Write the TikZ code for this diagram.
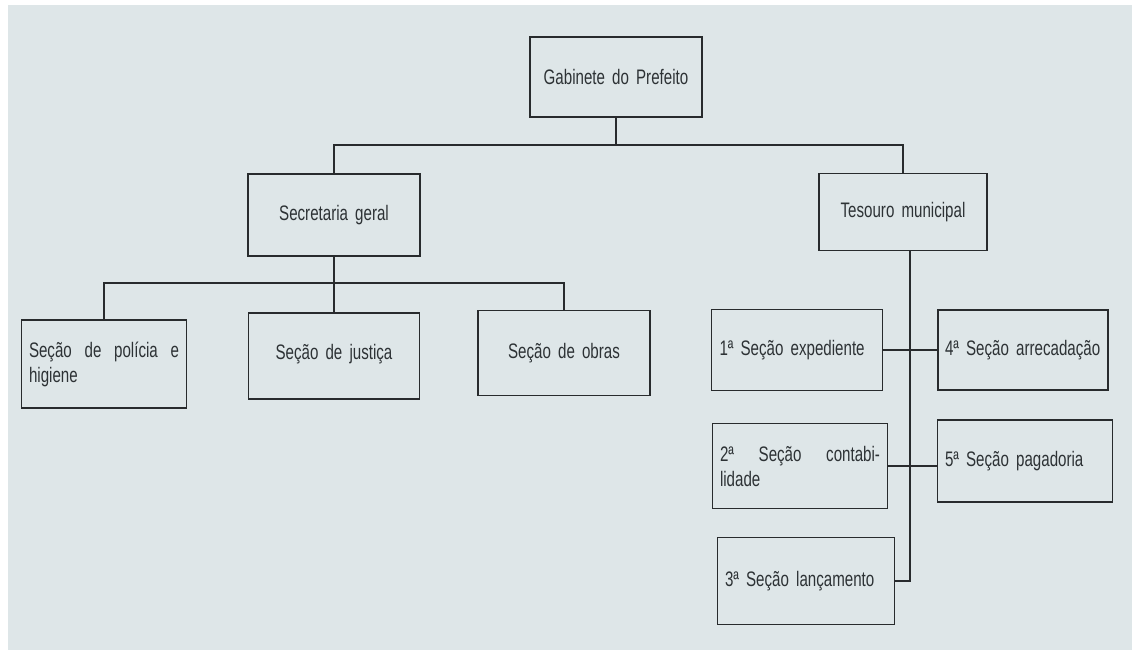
\documentclass[tikz,border=0pt]{standalone}
\usepackage{fontspec}
\setmainfont{Liberation Sans}[FakeStretch=0.72,WordSpace=1.7]
\definecolor{paper}{RGB}{222,230,232}
\definecolor{ink}{RGB}{40,43,45}
\definecolor{txt}{RGB}{45,50,53}
\begin{document}
\begin{tikzpicture}[x=1pt,y=-1pt,
  box/.style={draw=ink,line width=1.8pt,rectangle,minimum width=#1,inner sep=6pt,font=\fontsize{21}{25}\selectfont,text=txt},
  conn/.style={draw=ink,line width=1.7pt}]
\fill[paper] (0,0) rectangle (1132,650);
\fill[white] (0,0) rectangle (8,650);
\fill[white] (0,0) rectangle (1132,5);
\useasboundingbox (0,0) rectangle (1132,650);
\node[box=172pt,minimum height=80pt] (gab) at (616,77) {Gabinete do Prefeito};
\node[box=172pt,minimum height=82pt] (sec) at (334,215) {Secretaria geral};
\node[box=168pt,minimum height=77pt] (tes) at (903,212) {Tesouro municipal};
\node[box=165pt,minimum height=88pt] (pol) at (104,364) {\parbox{150pt}{Seção\hfill de\hfill polícia\hfill e\\higiene}};
\node[box=171pt,minimum height=86pt] (jus) at (334,356) {\raisebox{8pt}{Seção de justiça}};
\node[box=172pt,minimum height=85pt] (obr) at (564,353) {Seção de obras};
\node[box=171pt,minimum height=81pt] (e1) at (797,350) {\parbox{155pt}{1ª Seção expediente}};
\node[box=170pt,minimum height=80pt] (e4) at (1023,350) {\parbox{156pt}{4ª Seção arrecadação}};
\node[box=175pt,minimum height=85pt] (e2) at (800,466) {\parbox{160pt}{2ª\hfill Seção\hfill contabi-\\lidade}};
\node[box=175pt,minimum height=82pt] (e5) at (1025,461) {\parbox{160pt}{5ª Seção pagadoria}};
\node[box=177pt,minimum height=87pt] (e3) at (806,581) {\parbox{162pt}{3ª Seção lançamento}};
% top bus
\coordinate (b1) at (616,145);
\draw[conn] (gab.south) -- (b1);
\draw[conn] (sec.north) |- (b1) -| (tes.north);
% second bus
\coordinate (b2) at (334,283);
\draw[conn] (sec.south) -- (b2);
\draw[conn] (pol.north) |- (b2) -| (obr.north);
\draw[conn] (b2) -- (jus.north);
% tesouro trunk
\draw[conn] ([xshift=7pt]tes.south) |- (e3.east);
\draw[conn] (e1.east) -- (e4.west);
\draw[conn] (e2.east) -- (e5.west |- e2.east);
\end{tikzpicture}
\end{document}
